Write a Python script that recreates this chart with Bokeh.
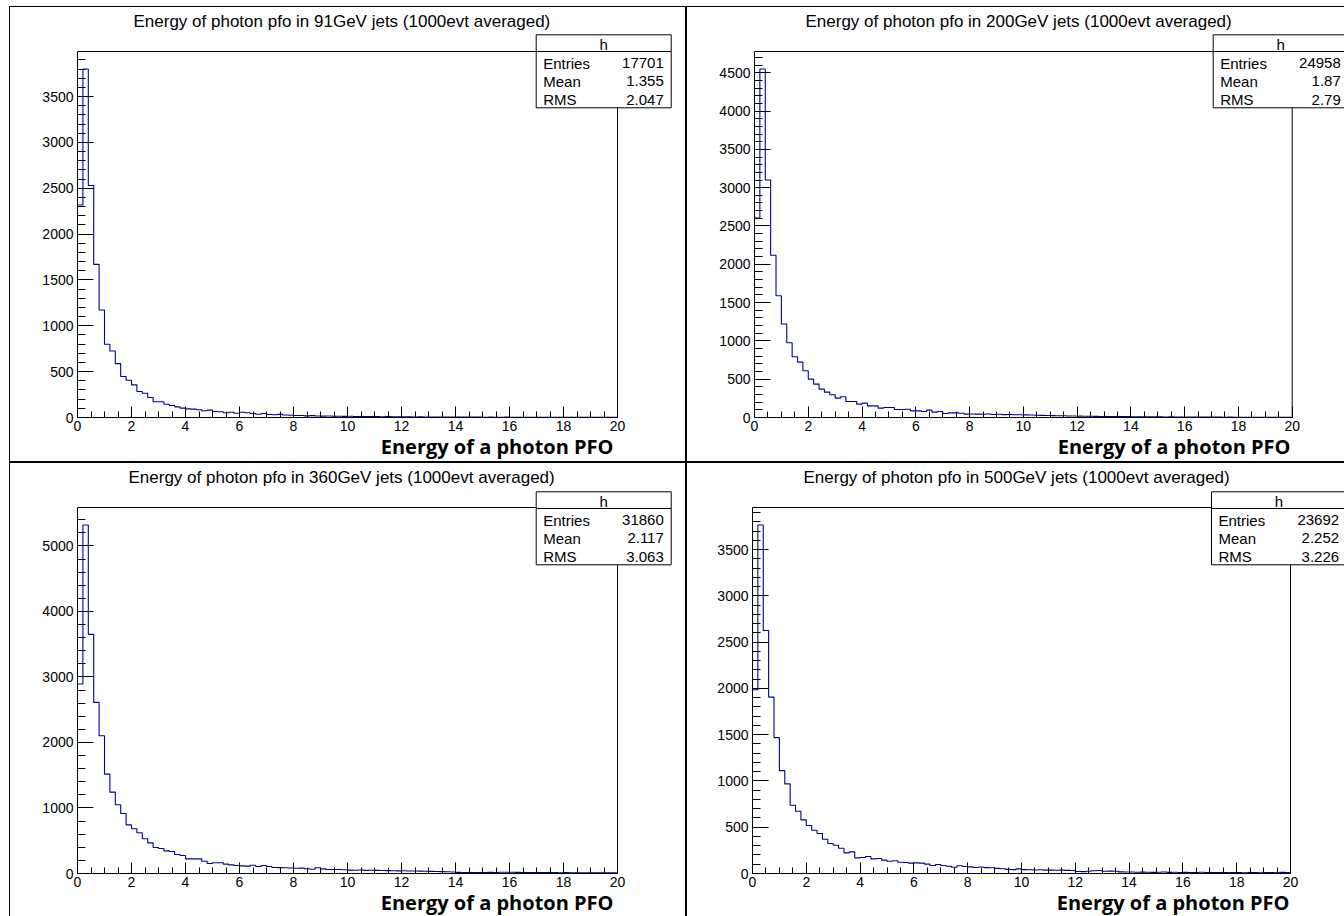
import numpy as np
from bokeh.plotting import figure
from bokeh.models import (SingleIntervalTicker, LinearAxis, Label, BoxAnnotation,
                          Range1d, Title, Spacer)
from bokeh.layouts import column, row
from bokeh.embed import file_html
from bokeh.resources import INLINE

# ---------------- data ----------------
bin_edges = np.round(np.arange(0, 20.0001, 0.2), 1)   # 100 bins of 0.2

jet_energies = ["91GeV", "200GeV", "360GeV", "500GeV"]

counts_91 = [
    2317, 3802, 2531, 1670, 1173, 799, 726, 588, 447, 407,
    356, 283, 265, 218, 171, 171, 145, 131, 116, 102,
    94, 91, 84, 73, 80, 65, 62, 51, 58, 47,
    58, 51, 44, 36, 44, 33, 30, 34, 27, 25,
    22, 21, 18, 20, 16, 15, 17, 14, 13, 12,
    13, 11, 10, 11, 9, 10, 8, 9, 8, 7,
    8, 7, 6, 7, 6, 5, 6, 5, 5, 4,
    5, 4, 4, 5, 4, 3, 4, 3, 3, 4,
    3, 3, 2, 3, 3, 2, 3, 2, 2, 3,
    2, 2, 2, 1, 2, 2, 1, 2, 1, 2]

counts_200 = [
    2605, 4550, 3100, 2117, 1590, 1220, 976, 793, 723, 610,
    501, 436, 370, 331, 296, 253, 270, 209, 209, 174,
    187, 152, 152, 122, 130, 130, 105, 105, 108, 87,
    87, 78, 96, 70, 78, 52, 61, 60, 55, 44,
    46, 44, 42, 45, 40, 43, 38, 40, 36, 35,
    34, 33, 30, 28, 26, 25, 22, 23, 20, 19,
    18, 17, 16, 15, 14, 14, 13, 12, 11, 11,
    10, 9, 10, 8, 9, 8, 7, 8, 7, 6,
    7, 6, 6, 5, 6, 5, 5, 4, 5, 4,
    4, 4, 3, 4, 3, 3, 4, 3, 3, 3]

counts_360 = [
    2892, 5321, 3651, 2612, 2103, 1517, 1242, 1049, 917, 743,
    682, 621, 530, 468, 397, 382, 346, 336, 290, 275,
    224, 224, 224, 188, 153, 163, 163, 143, 132, 122,
    117, 112, 127, 107, 122, 107, 92, 90, 88, 85,
    80, 82, 72, 66, 88, 70, 62, 60, 61, 58,
    52, 50, 53, 48, 50, 47, 45, 44, 42, 40,
    41, 39, 38, 36, 35, 33, 31, 28, 26, 24,
    17, 16, 15, 16, 14, 15, 17, 15, 18, 20,
    19, 17, 15, 16, 14, 15, 13, 14, 13, 12,
    13, 12, 11, 12, 11, 10, 11, 10, 10, 9]

counts_500 = [
    1986, 3766, 2626, 1906, 1468, 1111, 968, 737, 673, 579,
    518, 468, 432, 370, 324, 306, 273, 223, 234, 169,
    173, 183, 158, 162, 144, 133, 137, 122, 119, 112,
    115, 112, 101, 86, 97, 86, 79, 68, 83, 76,
    72, 65, 70, 64, 62, 55, 52, 45, 42, 50,
    42, 40, 38, 41, 37, 36, 35, 37, 34, 33,
    22, 20, 24, 30, 32, 25, 26, 24, 18, 17,
    16, 14, 15, 13, 12, 14, 16, 12, 13, 11,
    12, 10, 11, 13, 10, 9, 11, 10, 9, 10,
    9, 8, 10, 9, 8, 11, 9, 8, 12, 9]

stat_entries = ["17701", "24958", "31860", "23692"]
stat_means = ["1.355", "1.87", "2.117", "2.252"]
stat_rms = ["2.047", "2.79", "3.063", "3.226"]
stat_names = ["Entries", "Mean", "RMS"]
y_major_step = [500, 500, 1000, 500]
x_major_step = 2
x_max = 20
x_title = "Energy of a photon PFO"
stat_name = "h"

all_counts = [counts_91, counts_200, counts_360, counts_500]

# ---------------- layout geometry (pixels) ----------------
# width, height, frame_left, min_border_right, dx, dy, ROOT frame right, title offset
panel_geom = [
    (675, 454, 67, 13, 0.0, 0.0, 607.0, 56),
    (657, 454, 67, 0, 0.0, 0.0, 604.7, 51),
    (675, 453, 67, 13, 0.0, 1.0, 607.0, 51),
    (657, 453, 65, 0, -1.7, 1.0, 603.0, 51),
]
FRAME_TOP = 26
ROOT_FRAME_H = 366

HIST_COLOR = "#000099"
TXT_FONT = "Liberation Sans"


def make_panel(i):
    W, H, fl, mbr, dx, dy, root_right, t_off = panel_geom[i]
    counts = all_counts[i]
    ymax = 1.05 * max(counts)
    mbb = 44 if H == 454 else 43
    f_bottom = H - mbb
    f_right = W - mbr
    root_top = f_bottom - ROOT_FRAME_H
    x_end = x_max * (f_right - fl) / (root_right - fl)
    y_end = ymax * (f_bottom - FRAME_TOP) / (f_bottom - root_top)

    p = figure(width=W, height=H, x_range=Range1d(0, x_end), y_range=Range1d(0, y_end),
               output_backend="svg", toolbar_location=None,
               x_axis_type=None, y_axis_type=None,
               outline_line_color=None,
               min_border_left=fl, min_border_right=mbr,
               min_border_top=FRAME_TOP, min_border_bottom=mbb,
               styles={"background-color": "white"})
    p.background_fill_color = "white"
    p.border_fill_color = "white"

    # title
    p.add_layout(Title(text=f"Energy of photon pfo in {jet_energies[i]} jets (1000evt averaged)",
                       align="left", offset=t_off, standoff=5,
                       text_font=TXT_FONT, text_font_size="17px",
                       text_font_style="normal", text_color="black"), "above")

    xax = LinearAxis(ticker=SingleIntervalTicker(interval=x_major_step, num_minor_ticks=4),
                     bounds=(0, x_max))
    yax = LinearAxis(ticker=SingleIntervalTicker(interval=y_major_step[i], num_minor_ticks=5),
                     bounds=(0, ymax))
    for ax, tin, tmin in ((xax, 11, 6), (yax, 16, 8)):
        ax.axis_line_color = "black"
        ax.axis_line_width = 1
        ax.major_tick_line_color = "black"
        ax.minor_tick_line_color = "black"
        ax.major_tick_in = tin
        ax.major_tick_out = 0
        ax.minor_tick_in = tmin
        ax.minor_tick_out = 0
        ax.major_label_text_font = TXT_FONT
        ax.major_label_text_font_size = "14px"
        ax.major_label_text_color = "black"
    xax.major_label_standoff = 3
    yax.major_label_standoff = 4
    p.add_layout(xax, "below")
    p.add_layout(yax, "left")

    # x axis title, right-aligned at the end of the ROOT frame
    p.add_layout(Title(text=x_title, align="right", offset=int(round(f_right - (603.3 + dx))),
                       vertical_align="bottom", standoff=-5,
                       text_font="Open Sans", text_font_style="bold",
                       text_font_size="20px", text_color="black"), "below")

    # ROOT frame rectangle
    p.add_layout(BoxAnnotation(left=0, right=x_max, bottom=0, top=ymax,
                               fill_color=None, line_color="black", line_alpha=1,
                               line_width=1, level="underlay"))

    # histogram outline
    p.step(x=bin_edges, y=list(counts) + [counts[-1]], mode="after",
           line_color=HIST_COLOR, line_width=1.1)

    # stats box
    bl, br = 525.7 + dx, 660.7 + dx
    bt, bs, bb = 27.3 + dy, 44.0 + dy, 100.3 + dy
    for top, bottom in ((bt, bs), (bs, bb)):
        p.add_layout(BoxAnnotation(left=bl, right=br, top=top, bottom=bottom,
                                   left_units="canvas", right_units="canvas",
                                   top_units="canvas", bottom_units="canvas",
                                   fill_color="white", fill_alpha=1, line_color="black",
                                   line_alpha=1, line_width=1, level="overlay"))
    ty = -5.0
    p.add_layout(Label(x=(bl + br) / 2, y=42 + dy + ty, x_units="canvas", y_units="canvas",
                       text=stat_name, text_font=TXT_FONT, text_font_size="15px",
                       text_color="black",
                       text_align="center", text_baseline="alphabetic", level="overlay"))
    vals = [stat_entries[i], stat_means[i], stat_rms[i]]
    for k in range(3):
        yb = 60.7 + dy + 18.15 * k + ty
        p.add_layout(Label(x=bl + 7, y=yb, x_units="canvas", y_units="canvas",
                           text=stat_names[k], text_font=TXT_FONT, text_font_size="15px",
                           text_color="black",
                           text_align="left", text_baseline="alphabetic", level="overlay"))
        p.add_layout(Label(x=br - 7.4, y=yb, x_units="canvas", y_units="canvas",
                           text=vals[k], text_font=TXT_FONT, text_font_size="15px",
                           text_color="black",
                           text_align="right", text_baseline="alphabetic", level="overlay"))
    return p


figs = [make_panel(i) for i in range(4)]

layout = column(
    Spacer(width=1335, height=1),
    row(Spacer(width=1, height=454), figs[0], Spacer(width=2, height=454), figs[1]),
    Spacer(width=1335, height=2),
    row(Spacer(width=1, height=453), figs[2], Spacer(width=2, height=453), figs[3]),
    styles={"background-color": "black"}, margin=(6, 0, 0, 9))

with open("out.html", "w") as f:
    f.write(file_html(layout, INLINE))
